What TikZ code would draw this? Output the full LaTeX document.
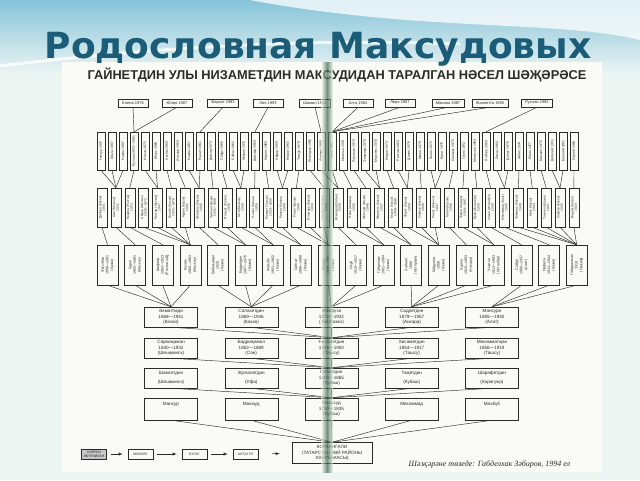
\documentclass[tikz,border=0pt]{standalone}
\usepackage{fontspec}
\setmainfont{Liberation Sans}
\newfontfamily\titlefont{DejaVu Sans}
\newfontfamily\notefont{Liberation Serif}
\definecolor{titleblue}{HTML}{1B5C78}
\definecolor{skyblue}{HTML}{86C4DA}
\definecolor{slide}{HTML}{EDF5F2}
\definecolor{paper}{HTML}{FAFAF7}
\definecolor{fold}{HTML}{2A5A3C}
\definecolor{ink}{HTML}{2B2B2B}
\tikzset{%
  >=latex, % option for nice arrows
  kin line/.style={line width=.45pt,draw=ink},
  leaf box/.style={draw=ink,line width=.45pt,text=ink,minimum width=30pt,
    minimum height=8pt,inner xsep=4pt,inner ysep=0pt,
    font=\fontsize{4}{4.5}\selectfont},
  grandchild box/.style={draw=ink,line width=.45pt,text=ink,rotate=90,
    minimum width=38pt,minimum height=8pt,inner sep=.5pt,
    font=\fontsize{3.4}{4}\selectfont},
  child box/.style={draw=ink,line width=.45pt,text=ink,rotate=90,align=center,
    minimum width=39pt,minimum height=10pt,inner sep=.5pt,
    font=\fontsize{3.2}{3.6}\selectfont},
  parent box/.style={draw=ink,line width=.45pt,text=ink,rotate=90,align=center,
    minimum width=40pt,minimum height=21pt,inner sep=.5pt,
    font=\fontsize{3.6}{4.6}\selectfont},
  elder box/.style={draw=ink,line width=.5pt,text=ink,align=center,
    minimum width=53pt,minimum height=20pt,inner sep=1pt,
    font=\fontsize{4.6}{5.4}\selectfont},
  chain box/.style={draw=ink,line width=.5pt,text=ink,align=center,
    minimum width=25pt,minimum height=10pt,inner sep=.5pt,
    font=\fontsize{3.4}{3.8}\selectfont}
}

\begin{document}
\begin{tikzpicture}[x=1pt,y=-1pt]

%definitions
\def\yLeaf{103} % great-great-grandchildren
\def\yGrand{151} % great-grandchildren
\def\yChild{207.5} % grandchildren
\def\yParent{265} % children
\useasboundingbox (0,0) rectangle (640,480);

%background of the slide
\fill[slide] (0,0) rectangle (640,480);
\shade[top color=skyblue,bottom color=slide] (0,0) rectangle (640,75);
\fill[white,opacity=.75] (250,0) .. controls (420,32) and (560,20) .. (640,40)
  -- (640,0) -- cycle;
\draw[white,line width=3pt,opacity=.8] (0,66) .. controls (150,48) and (300,38) .. (460,44);
\fill[paper] (62,62) rectangle (602,472);

%title
\node[font=\titlefont\bfseries\fontsize{36}{38}\selectfont,text=titleblue,
  anchor=base] (title) at (318,58) {Родословная Максудовых};
\node[font=\bfseries\fontsize{12.8}{13}\selectfont,text=ink,anchor=base]
  (subtitle) at (337,79) {ГАЙНЕТДИН УЛЫ НИЗАМЕТДИН МАКСУДИДАН ТАРАЛГАН НӘСЕЛ ШӘҖӘРӘСЕ};

%elder generations
\foreach \t [count=\i from 0] in {{Әхмәтһади\\1868—1941\\(Казан)},
  {Сәлахетдин\\1869—1946\\(Казан)},{Мәхфуза\\1872—1932\\(Зөя/Казан)},
  {Садретдин\\1879—1957\\(Анкара)},{Мәнсурә\\1885—1940\\(Алат)}}
  \node[elder box] (r5-\i) at ({171+80.25*\i},317) {\t};
\foreach \t [count=\i from 0] in {{Сәрвиҗамал\\1840—1932\\(Шешминск)},
  {Бәдриҗамал\\1852—1889\\(Сан)},{Низаметдин\\1846—1900\\(Ташсу)},
  {Хисаметдин\\1854—1917\\(Ташсу)},{Мөхәммәтҗан\\1856—1919\\(Ташсу)}}
  \node[elder box] (r6-\i) at ({171+80.25*\i},348) {\t};
\foreach \t [count=\i from 0] in {{Шәмсетдин\\[3pt](Шешминск)},
  {Җәлалетдин\\[3pt](Уфа)},{Гайнетдин\\1800—1865\\(Кубаш)},
  {Таҗетдин\\[3pt](Кубаш)},{Шәрәфетдин\\[3pt](Карагуҗа)}}
  \node[elder box] (r7-\i) at ({171+80.25*\i},378) {\t};
\foreach \t [count=\i from 0] in {{Мансур\\~\\~},{Мәхмүд\\~\\~},
  {Мәкъсуд\\1750—1835\\(Кубаш)},{Мөхәммәд\\~\\~},{Мәхбүб\\~\\~}}
  \node[elder box,minimum height=22pt] (r8-\i) at ({171+80.25*\i},409) {\t};
\node[elder box,minimum width=80pt,minimum height=21pt] (korban) at (332,453)
  {КОРБАНГАЛИ\\(ТАТАРСТАН ЗӘЙ РАЙОНЫ\\ХӘЕРБАКАСЫ)};
\foreach \i in {0,...,4} {
  \draw[kin line] (r5-\i.south) -- (r6-2.north);
  \draw[kin line] (r6-\i.south) -- (r7-2.north);
  \draw[kin line] (r7-\i.south) -- (r8-2.north);
  \draw[kin line] (r8-\i.south) -- (korban.north);
}

%ancestors before Korbangali
\node[chain box,fill=black!22] (anc-0) at (94,454) {ХӘЕРБИ\\ӘБҮРИЙЛАН};
\node[chain box] (anc-1) at (140.5,454) {МӘСКӘҮ};
\node[chain box] (anc-2) at (194.5,454) {БУЛАТ};
\node[chain box] (anc-3) at (245.5,454) {АНТАГУЛ};
\draw[->,kin line,shorten <=4pt,shorten >=5pt] (anc-0) -- (anc-1);
\draw[->,kin line,shorten <=4pt,shorten >=5pt] (anc-1) -- (anc-2);
\draw[->,kin line,shorten <=4pt,shorten >=5pt] (anc-2) -- (anc-3);
\draw[->,kin line,shorten <=14pt,shorten >=12pt] (anc-3) -- (korban);

%children
\foreach \t/\p [count=\i from 0] in {
  {Фатыйма\\1898—1981\\(Казан)}/0,{Гадел\\1905—1981\\(Мәскәү)}/0,
  {Шәфика\\1903—1923\\(Ростов н/Д)}/0,{Казим\\1905—1983\\(Мәскәү)}/0,
  {Бибиҗамал\\1920\\(Казан)}/1,{Бәдретдин\\1907—1976\\(Казан)}/1,
  {Фатыйх\\1901—1902\\(Казан)}/1,{Сибгат\\1908—1988\\(Казан)}/1,
  {Рашид\\1916—1981\\(Казан)}/2,{Якуб\\1910—1917\\(Казан)}/2,
  {Габделхак\\1901—1984\\(Казан)}/2,{Зәйнәп\\1908\\(Әстерхан)}/3,
  {Габдулла\\1908\\(Казан)}/3,{Адилә\\1910—1993\\(Анкара)}/3,
  {Чыңгыз\\1914—1983\\(Истанбул)}/3,{Сәйдә\\1900—1937\\(Алат)}/4,
  {Нәфисә\\1913—1944\\(Казан)}/4,{Габдрахман\\1919\\(Нәҗиф)}/4} {
  \node[parent box] (r4-\i) at ({107.5+27.6*\i},\yParent) {\t};
  \draw[kin line] (r4-\i.west) -- (r5-\p.north);
}

%grandchildren
\foreach \t/\p [count=\i from 0] in {
  {Диляра (Казан)\\1931}/0,{Азат (Мәскәү)\\1931}/1,{Нәфига (Ростов)\\1923}/2,
  {Айдар (Мәскәү)\\1935—1972}/3,{Рөстәм (Мәскәү)\\1947}/3,
  {Вәгыйз (Казан)\\1931—1978}/3,{Нурия (Казан)\\1941}/3,
  {Фәгыйлә (Казан)\\1935}/4,{Чулпан (Казан)\\1931—1968}/5,
  {Ильшат (Казан)\\1938}/5,{Гата (Мәскәү)\\1930}/6,{Нәилә (Казан)\\1936}/6,
  {Мәхмүт (Ташсу)\\1933—1950}/7,{Рифат (Казан)\\1938}/7,
  {Рәзия (Казан)\\1948}/8,{Ильмира (Казан)\\1934}/8,{Альберт (Казан)\\1938}/8,
  {Искәндәр (Казан)\\1939}/9,{Нина (Анкара)\\1936}/10,
  {Мәгъсүм (Казан)\\1948}/10,{Марсель (Казан)\\1937}/11,
  {Марат (Казан)\\1949—1995}/11,{Фәрит (Казан)\\1950}/12,
  {Сәрвәр (Казан)\\1938}/12,{Ринат (Ачинск)\\1947}/12,{Галия (Казан)\\1946}/13,
  {Тимур (Анкара)\\1944—1997}/14,{Ерол (Истанбул)\\1950}/14,
  {Ульви (Истанбул)\\1938}/15,{Мөхәммәд (Алат)\\1935}/16,
  {Эльмира (Казан)\\1940}/17,{Нияз (Казан)\\1944}/17,{Тәнзилә (Казан)\\1947}/17,
  {Сәрвәр (Казан)\\1945}/17,{Вадим (Казан)\\1924}/17} {
  \node[child box] (r3-\i) at ({102+13.88*\i},\yChild) {\t};
  \draw[kin line] (r3-\i.west) -- (r4-\p.east);
}

%great-grandchildren
\foreach \t/\p [count=\i from 0] in {
  Гөлнур 1957/1,Ольга 1987/1,Наилә 1987/1,Руслан 1953—1981/2,Ильза 1975/4,
  Игорь 1965/4,Артём 1969/5,Ильнар 1963/6,Нәилә 1967/7,Рәшит 1961/7,
  Дамир 1974/8,Сәйдә 1966/9,Ләйлә 1962/10,Әлфия 1971/10,Дамира 1964/11,
  Нәргиз 1965/12,Айдар 1959/13,Марат 1962/13,Тимур 1970/14,
  Искәндәр 1961/16,Фәридә 1960/17,Гүзәл 1961/17,Наталья 1970/18,
  Ярослав 1974/19,Эльмира 1970/20,Марсель 1970/20,Марат 1974/21,
  Рөстәм 1963/22,Дания 1976/22,Миша 1979/23,Гөлия 1972/24,Булат 1975/24,
  Салават 1975/25,Гүзәл 1972/26,Миләүшә 1964/27,Ләйсән 1969/28,
  Ольга 1960/29,Дилүс 1978/29,Айгөл 1974/30,Юлия 1977/31,Михаил 1975/32,
  Виталий 1951/33,Евгений 1961/33,Сергей 1964/34} {
  \node[grandchild box] (r2-\i) at ({101+11*\i},\yGrand) {\t};
  \draw[kin line] (r2-\i.west) -- (r3-\p.east);
}

%great-great-grandchildren
\foreach \t/\x/\p [count=\i from 0] in {Елена 1976/133/3,Юлия 1987/177/3,
  Фархат 1993/223/9,Лия 1993/268/14,Шамил 1991/315/20,Алга 1984/358/21,
  Лера 1987/400/21,Максим 1987/448/21,Жаннетта 1990/490/21,Руслан 1992/537/35} {
  \node[leaf box] (r1-\i) at (\x,\yLeaf) {\t};
  \draw[kin line] (r1-\i.south) -- (r2-\p.east);
}

%labels
\node[font=\notefont\itshape\fontsize{8}{9}\selectfont,text=ink,anchor=base west]
  (author) at (405,466) {Шәҗәрәне төзеде: Габделхак Зәбиров, 1994 ел};

%fold of the scanned page
\shade[left color=paper,right color=paper,middle color=fold,opacity=.65]
  (321,62) rectangle (333,472);

\end{tikzpicture}
\end{document}
